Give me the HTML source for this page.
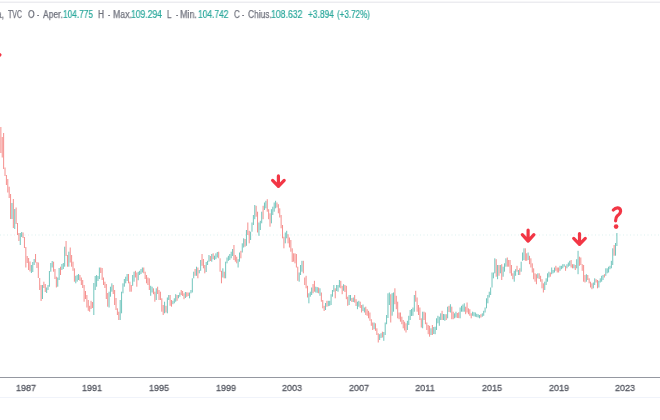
<!DOCTYPE html>
<html><head><meta charset="utf-8">
<style>
html,body{margin:0;padding:0;background:#fff;}
body{width:660px;height:420px;overflow:hidden;position:relative;font-family:"Liberation Sans",sans-serif;}
.topline{position:absolute;left:0;top:1px;width:660px;height:2px;background:linear-gradient(#f6f6f8 0,#f6f6f8 50%,#ececf0 50%,#ececf0 100%);}
.hdr{position:absolute;top:5.3px;left:0;height:20px;font-size:10px;line-height:20px;white-space:nowrap;}
.hdr span{position:absolute;top:0;transform-origin:0 0;will-change:transform;}
.l{color:#70737e;-webkit-text-stroke:0.25px #70737e;}
.v{color:#2ba89c;-webkit-text-stroke:0.22px #2ba89c;}
.axis{position:absolute;left:0;top:377px;width:660px;height:1px;background:#9598a1;}
.bline{position:absolute;left:0;top:397px;width:660px;height:1px;background:#f0f3fa;}
.yr{position:absolute;top:378.2px;font-size:9.5px;line-height:20px;color:#555862;-webkit-text-stroke:0.3px #555862;width:40px;text-align:center;transform:scaleX(0.95);will-change:transform;}
svg{position:absolute;left:0;top:0;}
</style></head><body>
<div class="topline"></div>
<div class="hdr">
<span class="l" style="left:-2.56px;transform:scaleX(0.820)">a,</span>
<span class="l" style="left:8.00px;transform:scaleX(0.700)">TVC</span>
<span class="l" style="left:27.6px;transform:scaleX(0.84)">O</span>
<span class="l" style="left:36.95px;transform:scaleX(0.700)">-</span>
<span class="l" style="left:42.50px;transform:scaleX(0.848)">Aper.</span>
<span class="v" style="left:63.07px;transform:scaleX(0.831)">104.775</span>
<span class="l" style="left:98.17px;transform:scaleX(0.833)">H</span>
<span class="l" style="left:108.10px;transform:scaleX(0.700)">-</span>
<span class="l" style="left:112.62px;transform:scaleX(0.875)">Max.</span>
<span class="v" style="left:131.34px;transform:scaleX(0.857)">109.294</span>
<span class="l" style="left:167.20px;transform:scaleX(0.800)">L</span>
<span class="l" style="left:175.70px;transform:scaleX(0.700)">-</span>
<span class="l" style="left:180.45px;transform:scaleX(0.900)">Min.</span>
<span class="v" style="left:197.66px;transform:scaleX(0.843)">104.742</span>
<span class="l" style="left:233.6px;transform:scaleX(0.80)">C</span>
<span class="l" style="left:242.20px;transform:scaleX(0.700)">-</span>
<span class="l" style="left:247.50px;transform:scaleX(0.839)">Chius.</span>
<span class="v" style="left:271.13px;transform:scaleX(0.871)">108.632</span>
<span class="v" style="left:308.00px;transform:scaleX(0.839)">+3.894</span>
<span class="v" style="left:337.00px;transform:scaleX(0.805)">(+3.72%)</span>
</div>
<svg width="660" height="420" viewBox="0 0 660 420">
<line x1="0" y1="235" x2="660" y2="235" stroke="#26a69a" stroke-opacity="0.16" stroke-width="1" stroke-dasharray="1 2.5"/>
<g fill="#ef5350" fill-opacity="0.65"><rect x="-2.42" y="127.00" width="1.0" height="26.00"/><rect x="-1.04" y="127.00" width="1.0" height="26.00"/><rect x="0.35" y="127.00" width="1.0" height="26.00"/><rect x="1.74" y="137.00" width="1.0" height="20.50"/><rect x="3.12" y="133.00" width="1.0" height="36.00"/><rect x="4.51" y="167.50" width="1.0" height="8.50"/><rect x="5.90" y="175.00" width="1.0" height="10.00"/><rect x="7.29" y="179.00" width="1.0" height="13.50"/><rect x="8.67" y="186.70" width="1.0" height="11.30"/><rect x="10.06" y="194.00" width="1.0" height="25.00"/><rect x="12.84" y="199.00" width="1.0" height="29.00"/><rect x="15.61" y="207.50" width="1.0" height="16.50"/><rect x="17.00" y="223.00" width="1.0" height="12.00"/><rect x="18.39" y="233.00" width="1.0" height="8.00"/><rect x="22.55" y="232.50" width="1.0" height="5.50"/><rect x="23.94" y="237.00" width="1.0" height="11.00"/><rect x="25.33" y="247.00" width="1.0" height="20.50"/><rect x="26.71" y="256.00" width="1.0" height="7.00"/><rect x="28.10" y="258.00" width="1.0" height="12.00"/><rect x="29.49" y="261.46" width="1.0" height="10.03"/><rect x="35.04" y="254.00" width="1.0" height="8.50"/><rect x="36.42" y="262.00" width="1.0" height="6.00"/><rect x="37.81" y="262.50" width="1.0" height="15.50"/><rect x="39.20" y="278.00" width="1.0" height="12.00"/><rect x="40.59" y="285.00" width="1.0" height="16.00"/><rect x="43.36" y="281.70" width="1.0" height="6.30"/><rect x="44.75" y="284.00" width="1.0" height="8.00"/><rect x="53.08" y="261.70" width="1.0" height="10.00"/><rect x="54.46" y="269.00" width="1.0" height="10.00"/><rect x="55.85" y="276.70" width="1.0" height="10.80"/><rect x="60.01" y="266.70" width="1.0" height="8.30"/><rect x="65.56" y="241.00" width="1.0" height="15.00"/><rect x="66.95" y="255.00" width="1.0" height="11.70"/><rect x="69.73" y="247.50" width="1.0" height="15.00"/><rect x="71.11" y="255.00" width="1.0" height="11.70"/><rect x="72.50" y="261.70" width="1.0" height="9.10"/><rect x="73.89" y="268.30" width="1.0" height="13.40"/><rect x="79.44" y="275.00" width="1.0" height="5.80"/><rect x="80.83" y="277.50" width="1.0" height="7.50"/><rect x="82.21" y="280.00" width="1.0" height="8.00"/><rect x="83.60" y="285.00" width="1.0" height="16.70"/><rect x="84.99" y="291.00" width="1.0" height="8.00"/><rect x="86.38" y="295.00" width="1.0" height="12.50"/><rect x="87.76" y="300.00" width="1.0" height="10.80"/><rect x="89.15" y="305.80" width="1.0" height="5.90"/><rect x="90.54" y="300.80" width="1.0" height="8.20"/><rect x="91.92" y="302.00" width="1.0" height="6.00"/><rect x="100.25" y="267.50" width="1.0" height="5.50"/><rect x="101.64" y="268.00" width="1.0" height="12.00"/><rect x="103.02" y="277.50" width="1.0" height="7.50"/><rect x="104.41" y="281.70" width="1.0" height="6.30"/><rect x="105.80" y="284.00" width="1.0" height="15.00"/><rect x="107.19" y="293.00" width="1.0" height="13.70"/><rect x="112.74" y="285.00" width="1.0" height="9.00"/><rect x="114.12" y="290.00" width="1.0" height="15.00"/><rect x="115.51" y="298.00" width="1.0" height="12.00"/><rect x="116.90" y="308.30" width="1.0" height="6.70"/><rect x="118.29" y="311.70" width="1.0" height="8.30"/><rect x="128.00" y="274.00" width="1.0" height="9.30"/><rect x="129.39" y="281.70" width="1.0" height="10.00"/><rect x="130.77" y="285.00" width="1.0" height="6.70"/><rect x="134.94" y="270.80" width="1.0" height="6.70"/><rect x="136.32" y="272.50" width="1.0" height="14.20"/><rect x="143.26" y="267.50" width="1.0" height="5.80"/><rect x="144.65" y="271.70" width="1.0" height="7.30"/><rect x="146.04" y="275.00" width="1.0" height="8.30"/><rect x="147.43" y="277.50" width="1.0" height="7.50"/><rect x="148.81" y="278.30" width="1.0" height="11.70"/><rect x="152.97" y="288.30" width="1.0" height="5.90"/><rect x="154.36" y="291.70" width="1.0" height="10.00"/><rect x="157.14" y="286.70" width="1.0" height="7.30"/><rect x="158.52" y="290.00" width="1.0" height="10.00"/><rect x="159.91" y="291.70" width="1.0" height="8.30"/><rect x="161.30" y="298.30" width="1.0" height="13.40"/><rect x="162.69" y="305.00" width="1.0" height="10.00"/><rect x="165.46" y="305.80" width="1.0" height="6.70"/><rect x="169.62" y="295.00" width="1.0" height="10.80"/><rect x="171.01" y="300.00" width="1.0" height="6.70"/><rect x="176.56" y="295.00" width="1.0" height="5.80"/><rect x="180.72" y="290.00" width="1.0" height="5.00"/><rect x="182.11" y="291.00" width="1.0" height="5.00"/><rect x="183.50" y="293.30" width="1.0" height="5.90"/><rect x="186.27" y="292.29" width="1.0" height="4.57"/><rect x="187.66" y="292.50" width="1.0" height="3.50"/><rect x="194.60" y="269.00" width="1.0" height="6.80"/><rect x="197.38" y="267.50" width="1.0" height="10.80"/><rect x="201.54" y="254.00" width="1.0" height="11.80"/><rect x="202.93" y="259.00" width="1.0" height="9.30"/><rect x="204.31" y="265.00" width="1.0" height="8.30"/><rect x="209.86" y="256.00" width="1.0" height="5.00"/><rect x="212.64" y="253.30" width="1.0" height="5.90"/><rect x="218.19" y="251.70" width="1.0" height="6.60"/><rect x="219.57" y="258.30" width="1.0" height="13.40"/><rect x="220.96" y="270.80" width="1.0" height="12.50"/><rect x="223.74" y="271.70" width="1.0" height="6.60"/><rect x="233.45" y="245.00" width="1.0" height="15.00"/><rect x="234.84" y="255.00" width="1.0" height="6.70"/><rect x="236.22" y="256.70" width="1.0" height="6.60"/><rect x="240.39" y="250.80" width="1.0" height="7.50"/><rect x="244.55" y="239.00" width="1.0" height="7.70"/><rect x="247.32" y="222.50" width="1.0" height="12.50"/><rect x="248.71" y="230.80" width="1.0" height="12.50"/><rect x="255.65" y="205.80" width="1.0" height="10.90"/><rect x="257.04" y="211.70" width="1.0" height="20.80"/><rect x="262.59" y="205.80" width="1.0" height="13.40"/><rect x="266.75" y="199.20" width="1.0" height="12.50"/><rect x="268.14" y="209.20" width="1.0" height="10.00"/><rect x="269.52" y="213.30" width="1.0" height="13.40"/><rect x="276.46" y="202.50" width="1.0" height="5.00"/><rect x="277.85" y="204.20" width="1.0" height="9.10"/><rect x="279.24" y="208.30" width="1.0" height="9.20"/><rect x="280.62" y="215.00" width="1.0" height="13.30"/><rect x="282.01" y="225.00" width="1.0" height="13.30"/><rect x="283.40" y="236.70" width="1.0" height="11.60"/><rect x="287.56" y="234.20" width="1.0" height="9.10"/><rect x="288.95" y="237.50" width="1.0" height="10.00"/><rect x="290.34" y="240.00" width="1.0" height="11.70"/><rect x="291.72" y="248.30" width="1.0" height="13.70"/><rect x="293.11" y="253.30" width="1.0" height="8.40"/><rect x="294.50" y="253.30" width="1.0" height="10.00"/><rect x="295.89" y="254.00" width="1.0" height="13.50"/><rect x="297.27" y="266.70" width="1.0" height="14.10"/><rect x="302.82" y="260.80" width="1.0" height="12.50"/><rect x="304.21" y="277.50" width="1.0" height="7.50"/><rect x="305.60" y="275.80" width="1.0" height="12.50"/><rect x="306.99" y="285.80" width="1.0" height="11.70"/><rect x="312.54" y="284.01" width="1.0" height="9.27"/><rect x="313.93" y="280.80" width="1.0" height="10.90"/><rect x="318.09" y="287.50" width="1.0" height="5.80"/><rect x="320.86" y="292.50" width="1.0" height="9.20"/><rect x="322.25" y="300.00" width="1.0" height="8.30"/><rect x="323.64" y="305.80" width="1.0" height="5.20"/><rect x="326.41" y="300.80" width="1.0" height="5.90"/><rect x="334.74" y="288.30" width="1.0" height="10.00"/><rect x="340.29" y="280.80" width="1.0" height="7.50"/><rect x="341.68" y="285.80" width="1.0" height="8.40"/><rect x="344.45" y="285.00" width="1.0" height="7.00"/><rect x="345.84" y="285.80" width="1.0" height="13.40"/><rect x="347.22" y="296.70" width="1.0" height="9.10"/><rect x="351.39" y="298.00" width="1.0" height="4.00"/><rect x="354.16" y="295.00" width="1.0" height="7.50"/><rect x="355.55" y="299.20" width="1.0" height="6.80"/><rect x="359.71" y="301.70" width="1.0" height="6.30"/><rect x="361.10" y="305.00" width="1.0" height="7.50"/><rect x="365.26" y="306.70" width="1.0" height="8.30"/><rect x="366.65" y="309.20" width="1.0" height="6.60"/><rect x="368.04" y="310.83" width="1.0" height="7.44"/><rect x="369.42" y="312.50" width="1.0" height="8.30"/><rect x="370.81" y="319.20" width="1.0" height="6.60"/><rect x="372.20" y="322.50" width="1.0" height="7.50"/><rect x="374.98" y="323.30" width="1.0" height="7.50"/><rect x="376.36" y="328.30" width="1.0" height="6.70"/><rect x="377.75" y="333.30" width="1.0" height="9.20"/><rect x="381.91" y="331.70" width="1.0" height="5.80"/><rect x="390.24" y="294.20" width="1.0" height="28.30"/><rect x="394.40" y="288.30" width="1.0" height="15.90"/><rect x="395.79" y="295.80" width="1.0" height="13.40"/><rect x="397.17" y="301.70" width="1.0" height="16.60"/><rect x="398.56" y="312.50" width="1.0" height="6.70"/><rect x="399.95" y="312.50" width="1.0" height="9.20"/><rect x="401.34" y="316.70" width="1.0" height="7.50"/><rect x="402.73" y="320.00" width="1.0" height="8.30"/><rect x="404.11" y="321.68" width="1.0" height="8.76"/><rect x="405.50" y="323.30" width="1.0" height="9.20"/><rect x="415.21" y="290.80" width="1.0" height="10.90"/><rect x="416.60" y="297.50" width="1.0" height="14.20"/><rect x="417.99" y="305.00" width="1.0" height="10.00"/><rect x="419.38" y="307.50" width="1.0" height="12.50"/><rect x="420.76" y="318.30" width="1.0" height="9.20"/><rect x="423.54" y="311.70" width="1.0" height="8.30"/><rect x="424.92" y="312.50" width="1.0" height="11.70"/><rect x="426.31" y="322.50" width="1.0" height="7.50"/><rect x="427.70" y="325.00" width="1.0" height="9.20"/><rect x="429.09" y="325.80" width="1.0" height="10.90"/><rect x="431.86" y="325.00" width="1.0" height="10.00"/><rect x="441.57" y="310.80" width="1.0" height="9.20"/><rect x="445.74" y="314.20" width="1.0" height="5.80"/><rect x="448.51" y="305.80" width="1.0" height="6.20"/><rect x="451.29" y="306.70" width="1.0" height="12.50"/><rect x="452.67" y="311.70" width="1.0" height="7.50"/><rect x="456.84" y="313.00" width="1.0" height="5.00"/><rect x="458.23" y="312.29" width="1.0" height="5.83"/><rect x="465.16" y="306.70" width="1.0" height="7.50"/><rect x="466.55" y="302.50" width="1.0" height="10.00"/><rect x="467.94" y="308.30" width="1.0" height="5.90"/><rect x="469.32" y="309.20" width="1.0" height="6.60"/><rect x="470.71" y="313.30" width="1.0" height="5.00"/><rect x="480.42" y="314.20" width="1.0" height="3.30"/><rect x="495.69" y="259.20" width="1.0" height="17.50"/><rect x="498.46" y="265.00" width="1.0" height="10.80"/><rect x="501.24" y="264.20" width="1.0" height="15.80"/><rect x="506.79" y="257.50" width="1.0" height="9.20"/><rect x="508.17" y="260.00" width="1.0" height="6.70"/><rect x="509.56" y="260.00" width="1.0" height="13.30"/><rect x="510.95" y="265.00" width="1.0" height="10.80"/><rect x="512.34" y="273.30" width="1.0" height="5.90"/><rect x="516.50" y="265.80" width="1.0" height="5.90"/><rect x="519.27" y="268.30" width="1.0" height="6.70"/><rect x="524.82" y="248.30" width="1.0" height="12.50"/><rect x="526.21" y="253.30" width="1.0" height="7.50"/><rect x="528.99" y="255.80" width="1.0" height="8.40"/><rect x="530.38" y="258.30" width="1.0" height="9.20"/><rect x="531.76" y="263.30" width="1.0" height="9.20"/><rect x="533.15" y="268.30" width="1.0" height="10.90"/><rect x="534.54" y="273.30" width="1.0" height="8.40"/><rect x="535.92" y="274.20" width="1.0" height="10.00"/><rect x="538.70" y="273.30" width="1.0" height="5.70"/><rect x="540.09" y="275.80" width="1.0" height="5.90"/><rect x="541.48" y="279.20" width="1.0" height="9.10"/><rect x="542.86" y="283.30" width="1.0" height="9.20"/><rect x="549.80" y="272.50" width="1.0" height="4.20"/><rect x="555.35" y="265.80" width="1.0" height="5.00"/><rect x="556.74" y="267.50" width="1.0" height="5.00"/><rect x="558.12" y="267.50" width="1.0" height="5.00"/><rect x="565.06" y="265.80" width="1.0" height="5.00"/><rect x="570.61" y="260.00" width="1.0" height="7.50"/><rect x="572.00" y="264.20" width="1.0" height="4.10"/><rect x="574.77" y="265.00" width="1.0" height="5.00"/><rect x="578.94" y="256.70" width="1.0" height="9.10"/><rect x="580.32" y="257.50" width="1.0" height="7.50"/><rect x="581.71" y="264.20" width="1.0" height="6.60"/><rect x="583.10" y="265.00" width="1.0" height="16.70"/><rect x="584.49" y="275.00" width="1.0" height="7.50"/><rect x="587.26" y="275.00" width="1.0" height="5.00"/><rect x="588.65" y="278.30" width="1.0" height="5.00"/><rect x="590.04" y="281.70" width="1.0" height="5.80"/><rect x="591.42" y="283.30" width="1.0" height="5.90"/><rect x="595.59" y="279.20" width="1.0" height="3.30"/><rect x="596.98" y="280.00" width="1.0" height="8.30"/><rect x="603.91" y="274.20" width="1.0" height="3.30"/><rect x="613.62" y="245.00" width="1.0" height="10.70"/></g><g fill="#26a69a" fill-opacity="0.65"><rect x="11.45" y="203.00" width="1.0" height="16.00"/><rect x="14.23" y="209.00" width="1.0" height="20.00"/><rect x="19.77" y="233.00" width="1.0" height="12.00"/><rect x="21.16" y="232.00" width="1.0" height="5.00"/><rect x="30.88" y="265.00" width="1.0" height="8.00"/><rect x="32.26" y="262.00" width="1.0" height="10.00"/><rect x="33.65" y="259.00" width="1.0" height="6.00"/><rect x="41.98" y="285.00" width="1.0" height="14.00"/><rect x="46.14" y="287.50" width="1.0" height="5.50"/><rect x="47.52" y="285.00" width="1.0" height="5.00"/><rect x="48.91" y="271.00" width="1.0" height="15.70"/><rect x="50.30" y="263.00" width="1.0" height="8.70"/><rect x="51.69" y="261.00" width="1.0" height="6.50"/><rect x="57.24" y="277.50" width="1.0" height="9.20"/><rect x="58.62" y="268.00" width="1.0" height="12.00"/><rect x="61.40" y="264.00" width="1.0" height="6.00"/><rect x="62.79" y="263.00" width="1.0" height="6.00"/><rect x="64.17" y="246.70" width="1.0" height="20.00"/><rect x="68.34" y="251.70" width="1.0" height="15.00"/><rect x="75.27" y="275.80" width="1.0" height="7.50"/><rect x="76.66" y="274.89" width="1.0" height="6.74"/><rect x="78.05" y="274.00" width="1.0" height="6.00"/><rect x="93.31" y="283.00" width="1.0" height="32.00"/><rect x="94.70" y="276.00" width="1.0" height="14.00"/><rect x="96.09" y="275.00" width="1.0" height="11.70"/><rect x="97.48" y="276.00" width="1.0" height="5.00"/><rect x="98.86" y="267.50" width="1.0" height="11.50"/><rect x="108.57" y="291.70" width="1.0" height="15.80"/><rect x="109.96" y="286.70" width="1.0" height="10.00"/><rect x="111.35" y="283.30" width="1.0" height="8.40"/><rect x="119.68" y="300.00" width="1.0" height="20.00"/><rect x="121.06" y="291.70" width="1.0" height="21.60"/><rect x="122.45" y="283.30" width="1.0" height="10.00"/><rect x="123.84" y="279.00" width="1.0" height="7.70"/><rect x="125.22" y="276.70" width="1.0" height="6.60"/><rect x="126.61" y="274.00" width="1.0" height="7.00"/><rect x="132.16" y="275.00" width="1.0" height="10.80"/><rect x="133.55" y="271.70" width="1.0" height="10.00"/><rect x="137.71" y="271.79" width="1.0" height="8.44"/><rect x="139.10" y="270.80" width="1.0" height="4.20"/><rect x="140.49" y="269.00" width="1.0" height="5.00"/><rect x="141.88" y="267.50" width="1.0" height="5.00"/><rect x="150.20" y="285.80" width="1.0" height="10.00"/><rect x="151.59" y="286.70" width="1.0" height="5.80"/><rect x="155.75" y="288.30" width="1.0" height="11.70"/><rect x="164.07" y="301.70" width="1.0" height="11.60"/><rect x="166.85" y="297.50" width="1.0" height="15.80"/><rect x="168.24" y="295.00" width="1.0" height="5.00"/><rect x="172.40" y="300.80" width="1.0" height="3.40"/><rect x="173.79" y="298.30" width="1.0" height="5.00"/><rect x="175.18" y="294.20" width="1.0" height="7.50"/><rect x="177.95" y="295.00" width="1.0" height="3.30"/><rect x="179.34" y="292.50" width="1.0" height="4.20"/><rect x="184.89" y="292.00" width="1.0" height="6.00"/><rect x="189.05" y="292.50" width="1.0" height="5.80"/><rect x="190.44" y="290.00" width="1.0" height="3.30"/><rect x="191.82" y="278.30" width="1.0" height="14.20"/><rect x="193.21" y="271.70" width="1.0" height="6.60"/><rect x="195.99" y="266.70" width="1.0" height="9.10"/><rect x="198.76" y="270.00" width="1.0" height="3.30"/><rect x="200.15" y="260.00" width="1.0" height="10.80"/><rect x="205.70" y="262.00" width="1.0" height="10.00"/><rect x="207.09" y="260.80" width="1.0" height="4.20"/><rect x="208.47" y="255.00" width="1.0" height="6.70"/><rect x="211.25" y="254.00" width="1.0" height="7.70"/><rect x="214.02" y="255.70" width="1.0" height="4.30"/><rect x="215.41" y="253.30" width="1.0" height="5.90"/><rect x="216.80" y="252.00" width="1.0" height="5.50"/><rect x="222.35" y="268.30" width="1.0" height="9.20"/><rect x="225.12" y="261.70" width="1.0" height="16.60"/><rect x="226.51" y="257.50" width="1.0" height="5.80"/><rect x="227.90" y="255.80" width="1.0" height="5.00"/><rect x="229.29" y="254.00" width="1.0" height="6.00"/><rect x="230.68" y="251.70" width="1.0" height="6.60"/><rect x="232.06" y="249.00" width="1.0" height="7.00"/><rect x="237.61" y="259.20" width="1.0" height="8.30"/><rect x="239.00" y="252.50" width="1.0" height="9.20"/><rect x="241.77" y="243.30" width="1.0" height="9.20"/><rect x="243.16" y="238.30" width="1.0" height="9.20"/><rect x="245.94" y="230.00" width="1.0" height="15.80"/><rect x="250.10" y="231.70" width="1.0" height="8.30"/><rect x="251.49" y="222.50" width="1.0" height="9.20"/><rect x="252.88" y="215.00" width="1.0" height="10.00"/><rect x="254.26" y="205.00" width="1.0" height="14.20"/><rect x="258.43" y="222.50" width="1.0" height="13.30"/><rect x="259.81" y="220.80" width="1.0" height="9.20"/><rect x="261.20" y="211.70" width="1.0" height="11.60"/><rect x="263.97" y="202.50" width="1.0" height="7.50"/><rect x="265.36" y="200.80" width="1.0" height="7.50"/><rect x="270.91" y="209.20" width="1.0" height="14.10"/><rect x="272.30" y="206.70" width="1.0" height="8.30"/><rect x="273.69" y="202.50" width="1.0" height="9.20"/><rect x="275.07" y="200.80" width="1.0" height="7.50"/><rect x="284.79" y="232.50" width="1.0" height="10.80"/><rect x="286.18" y="230.80" width="1.0" height="7.50"/><rect x="298.66" y="272.50" width="1.0" height="9.20"/><rect x="300.05" y="265.00" width="1.0" height="10.00"/><rect x="301.44" y="260.80" width="1.0" height="10.90"/><rect x="308.38" y="293.30" width="1.0" height="10.00"/><rect x="309.76" y="291.70" width="1.0" height="5.00"/><rect x="311.15" y="287.50" width="1.0" height="7.50"/><rect x="315.31" y="286.70" width="1.0" height="5.80"/><rect x="316.70" y="287.06" width="1.0" height="5.80"/><rect x="319.47" y="288.30" width="1.0" height="7.50"/><rect x="325.02" y="303.00" width="1.0" height="7.00"/><rect x="327.80" y="300.80" width="1.0" height="5.36"/><rect x="329.19" y="300.80" width="1.0" height="5.00"/><rect x="330.57" y="294.20" width="1.0" height="10.80"/><rect x="331.96" y="290.00" width="1.0" height="6.70"/><rect x="333.35" y="285.00" width="1.0" height="6.70"/><rect x="336.12" y="285.00" width="1.0" height="6.00"/><rect x="337.51" y="285.00" width="1.0" height="6.70"/><rect x="338.90" y="280.00" width="1.0" height="7.50"/><rect x="343.06" y="284.20" width="1.0" height="6.60"/><rect x="348.61" y="295.00" width="1.0" height="10.00"/><rect x="350.00" y="295.00" width="1.0" height="5.80"/><rect x="352.77" y="297.50" width="1.0" height="4.50"/><rect x="356.94" y="301.70" width="1.0" height="7.50"/><rect x="358.32" y="300.80" width="1.0" height="5.90"/><rect x="362.49" y="304.50" width="1.0" height="6.50"/><rect x="363.88" y="307.50" width="1.0" height="5.00"/><rect x="373.59" y="322.50" width="1.0" height="6.70"/><rect x="379.14" y="334.20" width="1.0" height="5.80"/><rect x="380.52" y="333.19" width="1.0" height="4.78"/><rect x="383.30" y="332.00" width="1.0" height="8.80"/><rect x="384.69" y="322.50" width="1.0" height="12.50"/><rect x="386.07" y="315.00" width="1.0" height="9.20"/><rect x="387.46" y="293.30" width="1.0" height="24.70"/><rect x="388.85" y="292.50" width="1.0" height="12.50"/><rect x="391.62" y="293.13" width="1.0" height="22.56"/><rect x="393.01" y="292.50" width="1.0" height="19.20"/><rect x="406.89" y="320.80" width="1.0" height="9.20"/><rect x="408.27" y="315.80" width="1.0" height="9.20"/><rect x="409.66" y="310.00" width="1.0" height="10.00"/><rect x="411.05" y="309.00" width="1.0" height="7.00"/><rect x="412.44" y="307.50" width="1.0" height="8.30"/><rect x="413.82" y="295.00" width="1.0" height="16.70"/><rect x="422.15" y="311.70" width="1.0" height="16.60"/><rect x="430.48" y="328.30" width="1.0" height="6.70"/><rect x="433.25" y="327.00" width="1.0" height="7.00"/><rect x="434.64" y="326.70" width="1.0" height="7.50"/><rect x="436.02" y="318.30" width="1.0" height="11.70"/><rect x="437.41" y="315.80" width="1.0" height="7.50"/><rect x="438.80" y="316.70" width="1.0" height="9.10"/><rect x="440.19" y="313.30" width="1.0" height="6.70"/><rect x="442.96" y="314.00" width="1.0" height="6.00"/><rect x="444.35" y="314.20" width="1.0" height="6.60"/><rect x="447.12" y="306.70" width="1.0" height="11.60"/><rect x="449.90" y="304.20" width="1.0" height="8.30"/><rect x="454.06" y="313.30" width="1.0" height="5.00"/><rect x="455.45" y="311.70" width="1.0" height="5.80"/><rect x="459.61" y="307.50" width="1.0" height="10.80"/><rect x="461.00" y="305.80" width="1.0" height="5.90"/><rect x="462.39" y="304.49" width="1.0" height="7.21"/><rect x="463.77" y="303.30" width="1.0" height="8.40"/><rect x="472.10" y="311.70" width="1.0" height="4.10"/><rect x="473.49" y="312.18" width="1.0" height="4.16"/><rect x="474.88" y="312.50" width="1.0" height="4.20"/><rect x="476.26" y="313.81" width="1.0" height="3.34"/><rect x="477.65" y="314.20" width="1.0" height="3.30"/><rect x="479.04" y="315.00" width="1.0" height="3.30"/><rect x="481.81" y="313.30" width="1.0" height="3.40"/><rect x="483.20" y="310.80" width="1.0" height="5.00"/><rect x="484.59" y="307.50" width="1.0" height="5.00"/><rect x="485.98" y="298.30" width="1.0" height="10.00"/><rect x="487.36" y="295.00" width="1.0" height="8.30"/><rect x="488.75" y="291.70" width="1.0" height="5.80"/><rect x="490.14" y="287.50" width="1.0" height="7.50"/><rect x="491.52" y="272.50" width="1.0" height="15.00"/><rect x="492.91" y="272.50" width="1.0" height="5.80"/><rect x="494.30" y="258.30" width="1.0" height="15.00"/><rect x="497.07" y="265.00" width="1.0" height="14.20"/><rect x="499.85" y="265.00" width="1.0" height="8.30"/><rect x="502.62" y="266.70" width="1.0" height="10.00"/><rect x="504.01" y="263.30" width="1.0" height="8.40"/><rect x="505.40" y="258.30" width="1.0" height="8.40"/><rect x="513.73" y="270.80" width="1.0" height="10.90"/><rect x="515.11" y="269.20" width="1.0" height="6.60"/><rect x="517.89" y="270.00" width="1.0" height="5.00"/><rect x="520.66" y="261.70" width="1.0" height="10.00"/><rect x="522.05" y="252.50" width="1.0" height="8.30"/><rect x="523.44" y="248.30" width="1.0" height="11.70"/><rect x="527.60" y="252.50" width="1.0" height="7.50"/><rect x="537.31" y="273.30" width="1.0" height="5.00"/><rect x="544.25" y="281.70" width="1.0" height="8.30"/><rect x="545.64" y="278.30" width="1.0" height="6.70"/><rect x="547.02" y="273.30" width="1.0" height="8.40"/><rect x="548.41" y="271.70" width="1.0" height="5.80"/><rect x="551.19" y="267.50" width="1.0" height="6.70"/><rect x="552.57" y="270.00" width="1.0" height="3.30"/><rect x="553.96" y="267.50" width="1.0" height="5.00"/><rect x="559.51" y="265.80" width="1.0" height="5.00"/><rect x="560.90" y="265.80" width="1.0" height="3.40"/><rect x="562.29" y="264.20" width="1.0" height="4.10"/><rect x="563.67" y="264.20" width="1.0" height="2.50"/><rect x="566.45" y="264.20" width="1.0" height="4.10"/><rect x="567.84" y="262.50" width="1.0" height="4.20"/><rect x="569.23" y="260.80" width="1.0" height="5.00"/><rect x="573.39" y="264.20" width="1.0" height="4.10"/><rect x="576.16" y="259.20" width="1.0" height="9.10"/><rect x="577.55" y="250.80" width="1.0" height="23.40"/><rect x="585.88" y="274.20" width="1.0" height="7.50"/><rect x="592.81" y="282.50" width="1.0" height="5.80"/><rect x="594.20" y="278.30" width="1.0" height="6.70"/><rect x="598.36" y="280.80" width="1.0" height="6.70"/><rect x="599.75" y="278.30" width="1.0" height="4.20"/><rect x="601.14" y="275.80" width="1.0" height="5.90"/><rect x="602.52" y="275.00" width="1.0" height="5.00"/><rect x="605.30" y="268.30" width="1.0" height="7.50"/><rect x="606.69" y="268.30" width="1.0" height="5.00"/><rect x="608.07" y="266.70" width="1.0" height="5.80"/><rect x="609.46" y="265.80" width="1.0" height="3.40"/><rect x="610.85" y="260.80" width="1.0" height="7.50"/><rect x="612.24" y="248.30" width="1.0" height="16.70"/><rect x="615.01" y="243.00" width="1.0" height="12.70"/><rect x="616.40" y="233.00" width="1.0" height="13.00"/></g>
<g stroke="#f23645" stroke-width="3.2" stroke-linecap="round" stroke-linejoin="round" fill="none">
<path d="M278.4 175.9V186.4M272.6 180.4L278.4 186.4L284.2 180.4"/>
<path d="M528.1 230.1V241.1M522.3 234.6L528.1 241.1L533.9 234.6"/>
<path d="M579.5 233.6V244.4M573.7 238.4L579.5 244.4L585.3 238.4"/>
<path d="M613.3 210C614.6 208.5 616.4 207.8 617.8 207.9C619.6 208.1 620.6 209.4 620.6 211.3C620.6 213.6 618.6 214.6 617.1 216.1C616 217.2 615.6 218.3 615.6 220.8"/>
<path d="M-0.1 54.8L-6 60.8"/>
</g>
<circle cx="616.1" cy="226.6" r="2.3" fill="#f23645"/>
</svg>
<div class="axis"></div>
<div class="bline"></div>
<div class="yr" style="left:5.75px">1987</div>
<div class="yr" style="left:72.36px">1991</div>
<div class="yr" style="left:138.97px">1995</div>
<div class="yr" style="left:205.58px">1999</div>
<div class="yr" style="left:272.19px">2003</div>
<div class="yr" style="left:338.80px">2007</div>
<div class="yr" style="left:405.41px">2011</div>
<div class="yr" style="left:472.02px">2015</div>
<div class="yr" style="left:538.63px">2019</div>
<div class="yr" style="left:605.24px">2023</div>
</body></html>
